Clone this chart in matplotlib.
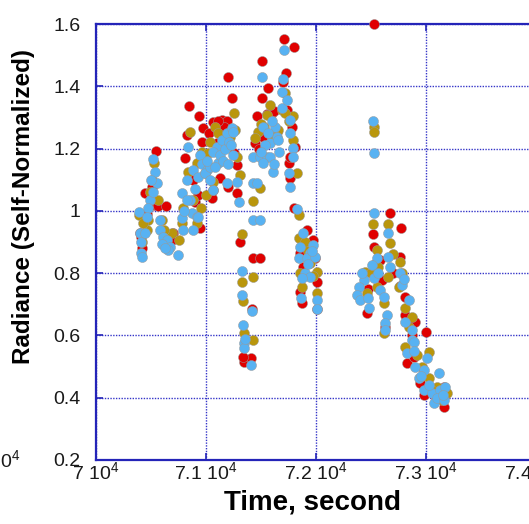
import matplotlib
matplotlib.use("Agg")
import matplotlib.pyplot as plt

# ── Data (time in seconds, self-normalized radiance) ─────────────────────────
RED_T = [70400, 70410, 70546, 70506, 70445, 70530, 70567, 70637, 70703, 70690, 70460, 70420,
         70809, 70825, 70849, 70940, 70976, 70885, 70900, 70946, 70960, 70930,
         71052, 71061, 71128, 71067, 71143, 71189, 71204, 71234, 71255, 71280, 71204, 71280,
         71098, 71030, 71160, 71110, 71310,
         71346, 71407, 71422, 71431, 71492, 71340,
         71507, 71507, 71568, 71462, 71598, 71522, 71446, 71643, 71704, 71728, 71710, 71801,
         71780, 71810, 71759, 71765, 71765, 71734, 71480, 71550, 71620,
         71801, 71917, 71856, 71971, 71886, 71856, 71871, 72007, 72010, 71930, 71990, 71880,
         72529, 72517, 72675, 72772, 72523, 72584, 72462, 72599, 72629, 72540, 72470, 72700,
         72766, 72811, 72811, 72902, 73002, 72826, 72948, 72978, 73160, 73160, 72760, 72870,
         73090, 73040, 72890]
RED_Y = [0.928, 0.917, 1.193, 1.078, 1.056, 1.020, 1.014, 1.014, 0.928, 0.905, 0.990, 0.880,
         1.169, 1.244, 1.337, 1.305, 1.265, 1.099, 1.030, 0.944, 1.220, 1.050,
         1.040, 1.067, 1.105, 1.286, 1.292, 1.290, 1.429, 1.363, 1.185, 1.147, 1.078, 1.056,
         1.217, 1.250, 1.270, 1.290, 0.901,
         0.516, 0.527, 0.684, 0.848, 0.848, 0.530,
         1.481, 1.361, 1.393, 1.306, 1.313, 1.238, 1.217, 1.254, 1.415, 1.444, 1.552, 1.527,
         1.270, 1.206, 1.153, 1.174, 1.105, 1.324, 1.200, 1.310, 1.320,
         1.008, 0.939, 0.864, 0.907, 0.821, 0.741, 0.703, 0.770, 0.684, 0.880, 0.850, 0.900,
         1.600, 0.925, 0.992, 0.945, 0.885, 0.842, 0.671, 0.778, 0.628, 0.830, 0.750, 0.800,
         0.853, 0.724, 0.666, 0.644, 0.612, 0.511, 0.446, 0.409, 0.371, 0.436, 0.760, 0.600,
         0.400, 0.430, 0.530]

GOLD_T = [70394, 70527, 70491, 70461, 70476, 70420, 70597, 70688, 70758, 70560, 70430, 70510, 70620,
          70794, 70840, 70855, 70916, 70885, 70916, 70780, 70955, 70960,
          71061, 71022, 71082, 71219, 71255, 71280, 71310, 70990, 71040, 71160, 71110, 71260,
          71325, 71000,
          71325, 71340, 71346, 71425, 71431, 71431, 71492,
          71477, 71552, 71598, 71446, 71689, 71719, 71795, 71795, 71825, 71719, 71530, 71650,
          71580, 71500, 71750,
          71841, 71841, 71901, 71947, 71856, 71871, 72007, 72007, 71930, 71975,
          72529, 72529, 72517, 72659, 72669, 72553, 72568, 72659, 72447, 72462, 72553, 72614,
          72614, 72500, 72700,
          72766, 72751, 72811, 72842, 72811, 72917, 73023, 73023, 73099, 73190, 73145, 72870,
          72960, 73060, 72780]
GOLD_Y = [0.987, 1.153, 1.062, 0.939, 0.971, 0.900, 0.971, 0.928, 0.907, 1.035, 0.960, 1.100, 0.940,
          1.008, 1.126, 1.254, 1.153, 1.035, 0.960, 0.960, 1.010, 1.190,
          1.094, 1.185, 1.270, 1.238, 1.313, 1.174, 1.115, 1.120, 1.220, 1.230, 1.250, 1.260,
          0.926, 1.050,
          0.770, 0.709, 0.607, 0.586, 0.787, 1.033, 1.072,
          1.254, 1.308, 1.238, 1.233, 1.324, 1.377, 1.305, 1.228, 1.121, 1.313, 1.270, 1.260,
          1.340, 1.280, 1.290,
          0.987, 0.912, 0.901, 0.832, 0.802, 0.757, 0.805, 0.735, 0.870, 0.790,
          1.270, 1.254, 0.958, 0.958, 0.898, 0.874, 0.821, 0.789, 0.805, 0.735, 0.757, 0.703,
          0.607, 0.800, 0.860,
          0.837, 0.757, 0.687, 0.628, 0.564, 0.537, 0.548, 0.462, 0.436, 0.414, 0.393, 0.660,
          0.500, 0.420, 0.800]

BLUE_T = [70394, 70400, 70410, 70415, 70405, 70521, 70536, 70552, 70491, 70476, 70445, 70582,
          70582, 70612, 70643, 70673, 70658, 70749, 70794, 70779, 70600, 70520, 70460, 70630, 70500,
          70779, 70825, 70840, 70946, 70885, 70931, 70855, 70825, 70870, 70916, 70885, 70931,
          70800, 70900, 70960,
          71061, 71007, 70991, 71037, 71113, 71098, 71143, 71189, 71234, 71249, 71249, 71189,
          71280, 71301, 71010, 71060, 71130, 71170, 71210, 71080, 71040, 71150, 71230, 71200,
          71325, 71325, 71340, 71346, 71346, 71350, 71410, 71422, 71431, 71492, 71431, 71462,
          71507, 71522, 71628, 71643, 71583, 71431, 71492, 71552, 71583, 71522, 71607, 71659,
          71689, 71689, 71698, 71710, 71734, 71765, 71765, 71795, 71795, 71759, 71765, 71560,
          71600, 71660, 71540, 71620, 71500,
          71825, 71850, 71841, 71886, 71901, 71947, 71971, 71947, 71917, 71992, 71871, 71862,
          72007, 72007, 71930, 71960,
          72517, 72529, 72529, 72659, 72553, 72659, 72675, 72508, 72432, 72387, 72371, 72402,
          72478, 72523, 72584, 72614, 72644, 72629, 72629, 72420, 72560, 72470,
          72766, 72781, 72842, 72811, 72872, 72872, 72887, 72826, 72902, 72933, 73008, 72978,
          72978, 73054, 73114, 73130, 73069, 73175, 73099, 73160, 72890, 73030, 72800, 73150,
          72950]
BLUE_Y = [0.997, 0.930, 0.864, 0.853, 0.900, 1.165, 1.126, 1.088, 1.035, 1.008, 0.928, 0.971,
          0.939, 0.917, 0.907, 0.885, 0.874, 0.858, 0.939, 0.976, 0.895, 1.060, 0.980, 0.880, 1.100,
          1.056, 1.099, 1.206, 1.179, 1.131, 1.110, 1.035, 1.035, 0.992, 0.981, 0.939, 0.981,
          1.000, 1.070, 1.150,
          1.067, 1.131, 1.121, 1.142, 1.153, 1.206, 1.228, 1.249, 1.265, 1.254, 1.179, 1.088,
          1.094, 1.030, 1.160, 1.190, 1.180, 1.200, 1.220, 1.140, 1.100, 1.160, 1.210, 1.150,
          0.808, 0.730, 0.634, 0.575, 0.559, 0.590, 0.505, 0.680, 0.971, 0.971, 1.088, 1.088,
          1.429, 1.270, 1.270, 1.238, 1.217, 1.174, 1.174, 1.174, 1.174, 1.153, 1.126, 1.228,
          1.329, 1.383, 1.422, 1.516, 1.356, 1.292, 1.249, 1.201, 1.174, 1.121, 1.078, 1.250,
          1.290, 1.190, 1.210, 1.150, 1.190,
          1.005, 0.885, 0.848, 0.928, 0.800, 0.789, 0.891, 0.864, 0.848, 0.853, 0.784, 0.719,
          0.714, 0.684, 0.830, 0.870,
          1.290, 1.187, 0.992, 0.930, 0.848, 0.853, 0.821, 0.826, 0.778, 0.757, 0.730, 0.714,
          0.687, 0.784, 0.746, 0.725, 0.666, 0.639, 0.618, 0.800, 0.800, 0.720,
          0.800, 0.762, 0.714, 0.644, 0.618, 0.585, 0.580, 0.543, 0.500, 0.462, 0.527, 0.489,
          0.425, 0.414, 0.479, 0.425, 0.382, 0.436, 0.398, 0.393, 0.550, 0.440, 0.780, 0.410,
          0.470]

X_TICKS = [70000, 71000, 72000, 73000, 74000]
X_TICK_LABELS = ["7 10$^{4}$", "7.1 10$^{4}$", "7.2 10$^{4}$", "7.3 10$^{4}$", "7.4 10$^{4}$"]
Y_TICKS = [0.2, 0.4, 0.6, 0.8, 1.0, 1.2, 1.4, 1.6]
Y_TICK_LABELS = ["0.2", "0.4", "0.6", "0.8", "1", "1.2", "1.4", "1.6"]

# ── Style ────────────────────────────────────────────────────────────────────
plt.rcParams["font.family"] = ["Liberation Sans", "DejaVu Sans"]
plt.rcParams["mathtext.fontset"] = "custom"
plt.rcParams["mathtext.rm"] = "Liberation Sans"
plt.rcParams["mathtext.it"] = "Liberation Sans:italic"
plt.rcParams["mathtext.bf"] = "Liberation Sans:bold"

AXIS_BLUE = "#2424b8"
GRID_BLUE = "#3535c8"
W, H = 529, 524

fig = plt.figure(figsize=(W / 100, H / 100), dpi=100)
ax = fig.add_axes([96 / W, (H - 460) / H, (536 - 96) / W, (460 - 24) / H])

marker_kw = dict(s=52, edgecolors="#9a9a9a", linewidths=0.35, zorder=3, clip_on=False)
ax.scatter(RED_T, RED_Y, color="#e00000", **marker_kw)
ax.scatter(GOLD_T, GOLD_Y, color="#b9960c", **marker_kw)
ax.scatter(BLUE_T, BLUE_Y, color="#58b2f2", **marker_kw)

ax.set_xlim(70000, 74000)
ax.set_ylim(0.2, 1.6)
ax.set_xticks(X_TICKS)
ax.set_xticklabels(X_TICK_LABELS)
ax.set_yticks(Y_TICKS)
ax.set_yticklabels(Y_TICK_LABELS)
ax.tick_params(direction="in", length=5, width=1.2, color=AXIS_BLUE,
               top=True, right=True, labelsize=14, labelcolor="#1a1a1a")
ax.tick_params(axis="x", pad=1)
ax.tick_params(axis="y", pad=11)

ax.grid(True, color=GRID_BLUE, linestyle=(0, (1, 1)), linewidth=1.0)
ax.set_axisbelow(True)
for sp in ax.spines.values():
    sp.set_color(AXIS_BLUE)
    sp.set_linewidth(1.6)

fig.text(24 / W, 1 - 206 / H, "Radiance (Self-Normalized)", rotation=90,
         ha="center", va="center", fontsize=17.5, fontweight="bold")
fig.text(312 / W, 1 - 502 / H, "Time, second", ha="center", va="center",
         fontsize=20, fontweight="bold")
# fragment of a neighbouring panel's tick label
fig.text(0 / W, 1 - 460 / H, "0$^{4}$", ha="left", va="center", fontsize=14, color="#1a1a1a")

fig.savefig("out.png", dpi=100)
